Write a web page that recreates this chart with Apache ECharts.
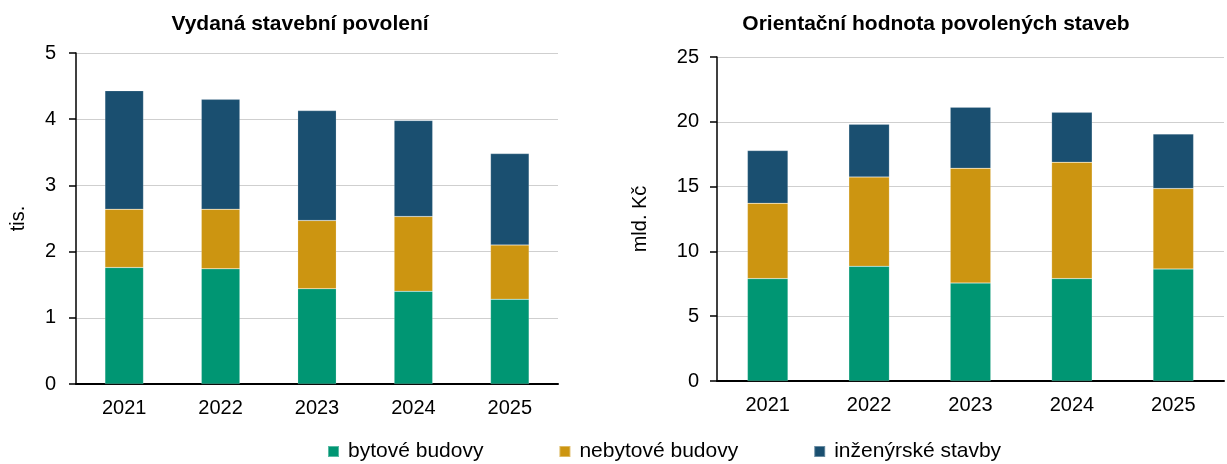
<!DOCTYPE html>
<html>
<head>
<meta charset="utf-8">
<script src="https://cdn.jsdelivr.net/npm/echarts@6/dist/echarts.min.js"></script>
<style>
  html, body { margin: 0; padding: 0; background: #fff; }
  #chart { width: 1227px; height: 464px; }
</style>
</head>
<body>
<div id="chart"></div>
<script>
// roky
var years = ['2021', '2022', '2023', '2024', '2025'];
var seriesNames = ['bytové budovy', 'nebytové budovy', 'inženýrské stavby'];

// vydaná stavební povolení (tis.)
var permitsResidential = [1.76, 1.74, 1.44, 1.40, 1.28];
var permitsNonResidential = [0.88, 0.90, 1.03, 1.13, 0.82];
var permitsCivil = [1.79, 1.66, 1.66, 1.45, 1.38];

// orientační hodnota (mld. Kč)
var valueResidential = [7.90, 8.85, 7.56, 7.90, 8.64];
var valueNonResidential = [5.81, 6.89, 8.85, 8.98, 6.21];
var valueCivil = [4.07, 4.07, 4.71, 3.85, 4.21];

var colors = ['#009673', '#cc9511', '#1a4f70'];
var font = '"Liberation Sans", Arial, sans-serif';

var chart = echarts.init(document.getElementById('chart'));

function bar (name, data, idx, stack) {
  return {
    name: name,
    type: 'bar',
    stack: stack,
    xAxisIndex: idx,
    yAxisIndex: idx,
    barWidth: '40%',
    data: data,
    itemStyle: { color: colors[seriesNames.indexOf(name)], borderColor: 'rgba(255,255,255,0.35)', borderWidth: 0.5 },
    emphasis: { disabled: true }
  };
}

function yAxis (idx, max, interval, name, gap, margin) {
  return {
    type: 'value',
    gridIndex: idx,
    min: 0,
    max: max,
    interval: interval,
    name: name,
    nameLocation: 'middle',
    nameGap: gap,
    nameTextStyle: { fontFamily: font, fontSize: 20, color: '#000' },
    axisLine: { show: true, lineStyle: { color: '#000', width: 1.5 } },
    axisTick: { show: true, length: 7, lineStyle: { color: '#000', width: 1.5 } },
    axisLabel: { fontFamily: font, fontSize: 20, color: '#000', margin: margin },
    splitLine: { lineStyle: { color: '#cfcfcf', width: 1.2 } }
  };
}

function xAxis (idx) {
  return {
    type: 'category',
    gridIndex: idx,
    data: years,
    axisLine: { lineStyle: { color: '#000', width: 2 } },
    axisTick: { show: false },
    axisLabel: { fontFamily: font, fontSize: 20, color: '#000', margin: 14 }
  };
}

var option = {
  animation: false,
  title: [
    { text: 'Vydaná stavební povolení', left: 295, top: 9, textAlign: 'center',
      textStyle: { fontFamily: font, fontSize: 21, fontWeight: 'bold', color: '#000' } },
    { text: 'Orientační hodnota povolených staveb', left: 931, top: 9, textAlign: 'center',
      textStyle: { fontFamily: font, fontSize: 21, fontWeight: 'bold', color: '#000' } }
  ],
  legend: {
    data: seriesNames,
    left: 322,
    top: 436,
    icon: 'rect',
    itemWidth: 11,
    itemHeight: 11,
    itemGap: 75,
    textStyle: { fontFamily: font, fontSize: 21, color: '#000', padding: [0, 0, 0, 4] }
  },
  grid: [
    { left: 76, right: 669, top: 53, bottom: 80 },
    { left: 717, right: 3, top: 57, bottom: 83 }
  ],
  xAxis: [xAxis(0), xAxis(1)],
  yAxis: [yAxis(0, 5, 1, 'tis.', 48, 20), yAxis(1, 25, 5, 'mld. Kč', 67, 18)],
  series: [
    bar(seriesNames[0], permitsResidential, 0, 'a'),
    bar(seriesNames[1], permitsNonResidential, 0, 'a'),
    bar(seriesNames[2], permitsCivil, 0, 'a'),
    bar(seriesNames[0], valueResidential, 1, 'b'),
    bar(seriesNames[1], valueNonResidential, 1, 'b'),
    bar(seriesNames[2], valueCivil, 1, 'b')
  ]
};

chart.setOption(option);
</script>
</body>
</html>
